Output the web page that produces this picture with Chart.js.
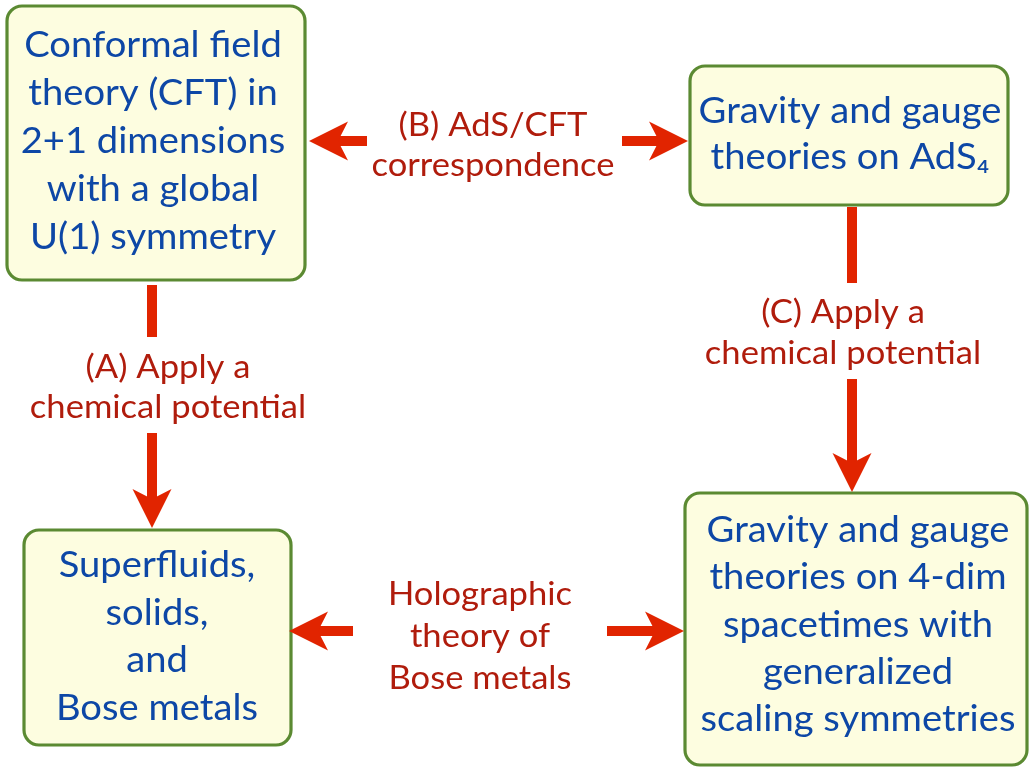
<!DOCTYPE html>
<html>
<head>
<meta charset="utf-8">
<script src="https://cdn.jsdelivr.net/npm/chart.js@4.4.0/dist/chart.umd.min.js"></script>
<style>
  html, body { margin: 0; padding: 0; background: #ffffff; }
  #diagram { display: block; }
</style>
</head>
<body>
<canvas id="diagram" width="1029" height="768"></canvas>
<script>
// boxes (text lines)
var boxCFT = ['Conformal field', 'theory (CFT) in', '2+1 dimensions', 'with a global', 'U(1) symmetry'];
var boxAdS = ['Gravity and gauge', 'theories on AdS\u2084'];
var boxScaling = ['Gravity and gauge', 'theories on 4-dim', 'spacetimes with', 'generalized', 'scaling symmetries'];
var boxBose = ['Superfluids,', 'solids,', 'and', 'Bose metals'];

// arrow labels
var labelA = ['(A) Apply a', 'chemical potential'];
var labelB = ['(B) AdS/CFT', 'correspondence'];
var labelC = ['(C) Apply a', 'chemical potential'];
var labelHolo = ['Holographic', 'theory of', 'Bose metals'];

// layout in diagram units (0..1029 x 0..768, y down)
var boxes = [
  { lines: boxCFT,     x0: 7,   y0: 6,   x1: 305,  y1: 280, first: 57,  step: 48, cx: 153 },
  { lines: boxAdS,     x0: 690, y0: 66,  x1: 1008, y1: 205, first: 123, step: 46, cx: 850 },
  { lines: boxScaling, x0: 685, y0: 493, x1: 1027, y1: 765, first: 542, step: 47.3, cx: 858 },
  { lines: boxBose,    x0: 24,  y0: 530, x1: 291,  y1: 745, first: 577, step: 47.6, cx: 157 }
];
var labels = [
  { lines: labelB,    cx: 493, first: 136, step: 40 },
  { lines: labelA,    cx: 168, first: 378, step: 40 },
  { lines: labelC,    cx: 843, first: 323, step: 41 },
  { lines: labelHolo, cx: 480, first: 605, step: 42 }
];
// shafts without heads, and shafts ending in a head at (x1,y1)
var plainShafts = [
  [152, 285, 152, 337],
  [852, 207, 852, 283]
];
var headShafts = [
  [367, 141, 309, 141],
  [622, 141, 688, 141],
  [152, 433, 152, 528],
  [852, 379, 852, 492],
  [353, 631, 289, 631],
  [607, 631, 684, 631]
];

var FONT = 'Lato, "Open Sans", sans-serif';
var BLUE = '#0d47a6';
var RED = '#b01c0c';
var ARROW = '#e12400';

function roundRect(ctx, x, y, w, h, r) {
  ctx.beginPath();
  ctx.moveTo(x + r, y);
  ctx.lineTo(x + w - r, y);
  ctx.arcTo(x + w, y, x + w, y + r, r);
  ctx.lineTo(x + w, y + h - r);
  ctx.arcTo(x + w, y + h, x + w - r, y + h, r);
  ctx.lineTo(x + r, y + h);
  ctx.arcTo(x, y + h, x, y + h - r, r);
  ctx.lineTo(x, y + r);
  ctx.arcTo(x, y, x + r, y, r);
  ctx.closePath();
}

// text stretched horizontally a bit, Gill Sans is wider than Lato
function wideText(ctx, t, x, y, stretch) {
  ctx.save();
  ctx.translate(x, y);
  ctx.scale(stretch, 1);
  ctx.fillText(t, 0, 0);
  ctx.restore();
}

var diagramPlugin = {
  id: 'diagram',
  afterDraw: function (chart) {
    var ctx = chart.ctx;
    var sx = chart.scales.x, sy = chart.scales.y;
    var px = function (v) { return sx.getPixelForValue(v); };
    var py = function (v) { return sy.getPixelForValue(v); };
    ctx.save();
    ctx.textAlign = 'center';
    ctx.textBaseline = 'alphabetic';

    // boxes
    boxes.forEach(function (b) {
      var x = px(b.x0), y = py(b.y0), w = px(b.x1) - x, h = py(b.y1) - y;
      roundRect(ctx, x, y, w, h, 15);
      ctx.fillStyle = '#fdfde0';
      ctx.fill();
      ctx.lineWidth = 3.2;
      ctx.strokeStyle = '#5b8a32';
      ctx.stroke();
      ctx.fillStyle = BLUE;
      ctx.font = '36px ' + FONT;
      b.lines.forEach(function (t, i) {
        wideText(ctx, t, px(b.cx), py(b.first + i * b.step), 1.06);
      });
    });

    // labels
    labels.forEach(function (l) {
      ctx.fillStyle = RED;
      ctx.font = '32px ' + FONT;
      l.lines.forEach(function (t, i) {
        wideText(ctx, t, px(l.cx), py(l.first + i * l.step), 1.08);
      });
    });

    // arrows
    ctx.strokeStyle = ARROW;
    ctx.fillStyle = ARROW;
    ctx.lineWidth = 10;
    ctx.lineCap = 'butt';
    plainShafts.forEach(function (s) {
      ctx.beginPath();
      ctx.moveTo(px(s[0]), py(s[1]));
      ctx.lineTo(px(s[2]), py(s[3]));
      ctx.stroke();
    });
    headShafts.forEach(function (s) {
      var x0 = px(s[0]), y0 = py(s[1]), x1 = px(s[2]), y1 = py(s[3]);
      var ang = Math.atan2(y1 - y0, x1 - x0);
      var L = 39, W = 19.5, notch = 29;
      var ux = Math.cos(ang), uy = Math.sin(ang);
      var nx = -uy, ny = ux;
      ctx.beginPath();
      ctx.moveTo(x0, y0);
      ctx.lineTo(x1 - ux * (notch - 2), y1 - uy * (notch - 2));
      ctx.stroke();
      ctx.beginPath();
      ctx.moveTo(x1, y1);
      ctx.lineTo(x1 - ux * L + nx * W, y1 - uy * L + ny * W);
      ctx.lineTo(x1 - ux * notch, y1 - uy * notch);
      ctx.lineTo(x1 - ux * L - nx * W, y1 - uy * L - ny * W);
      ctx.closePath();
      ctx.fill();
    });
    ctx.restore();
  }
};

new Chart(document.getElementById('diagram'), {
  type: 'scatter',
  data: { datasets: [{ data: [], pointRadius: 0 }] },
  options: {
    responsive: false,
    animation: false,
    events: [],
    layout: { padding: 0 },
    plugins: { legend: { display: false }, tooltip: { enabled: false } },
    scales: {
      x: { type: 'linear', min: 0, max: 1029, display: false },
      y: { type: 'linear', min: 0, max: 768, reverse: true, display: false }
    }
  },
  plugins: [diagramPlugin]
});
</script>
</body>
</html>
